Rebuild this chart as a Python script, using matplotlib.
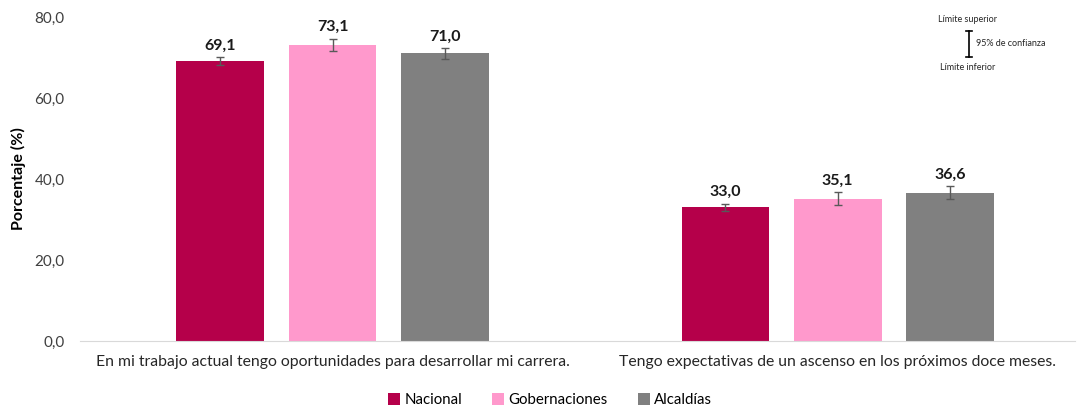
import matplotlib
matplotlib.use("Agg")
import matplotlib.pyplot as plt
import numpy as np

plt.rcParams['font.family'] = ['Lato', 'DejaVu Sans']

categories = ["En mi trabajo actual tengo oportunidades para desarrollar mi carrera.",
              "Tengo expectativas de un ascenso en los próximos doce meses."]
series = ["Nacional", "Gobernaciones", "Alcaldías"]
nacional = [69.1, 33.0]
gobernaciones = [73.1, 35.1]
alcaldias = [71.0, 36.6]
err_nacional = [0.9, 0.9]
err_gobernaciones = [1.5, 1.6]
err_alcaldias = [1.3, 1.6]
yticks = [0, 20, 40, 60, 80]
colors = ["#B5004A", "#FF99CC", "#808080"]

fig = plt.figure(figsize=(10.78, 4.11), dpi=100)
ax = fig.add_axes([80/1078, 1 - 341/411, (1075-80)/1078, (341-17)/411])

x = np.arange(len(categories))
w = 0.174
off = 0.222
vals = [nacional, gobernaciones, alcaldias]
errs = [err_nacional, err_gobernaciones, err_alcaldias]
for i, (v, e, c, name) in enumerate(zip(vals, errs, colors, series)):
    pos = x + (i - 1) * off
    ax.bar(pos, v, width=w, color=c, label=name, zorder=2)
    ax.errorbar(pos, v, yerr=e, fmt='none', ecolor='#595959', elinewidth=1,
                capsize=3, capthick=1, zorder=3)
    for p, val, er in zip(pos, v, e):
        ax.text(p, val + er + 1.2, f"{val:.1f}".replace('.', ','), ha='center', va='bottom',
                fontsize=11.5, fontweight='bold', color='#1a1a1a')

ax.set_xlim(-0.5, 1.47)
ax.set_ylim(0, 80)
ax.set_yticks(yticks)
ax.set_yticklabels([f"{t:.1f}".replace('.', ',') for t in yticks], fontsize=11, color='#404040')
ax.set_xticks(x)
ax.set_xticklabels(categories, fontsize=11.3, color='#262626')
ax.tick_params(axis='x', length=0, pad=10)
ax.tick_params(axis='y', length=0, pad=11)
for s in ['top', 'right', 'left']:
    ax.spines[s].set_visible(False)
ax.spines['bottom'].set_color('#d9d9d9')
ax.set_ylabel("Porcentaje (%)", fontsize=11.5, fontweight='bold', labelpad=6)

leg = fig.legend(loc='center', bbox_to_anchor=(550/1078, 1 - 400/411), ncol=3, frameon=False,
                 fontsize=10.8, handlelength=0.8, handleheight=0.8, columnspacing=2.0, handletextpad=0.3)

# confidence interval key
fig.text(968/1078, 1 - 20/411, "Límite superior", ha='center', va='center', fontsize=6.5, color='#262626')
fig.text(968/1078, 1 - 67/411, "Límite inferior", ha='center', va='center', fontsize=6.5, color='#262626')
fig.text(976/1078, 1 - 44/411, "95% de confianza", ha='left', va='center', fontsize=6.5, color='#262626')
xk = 969/1078
y1, y2 = 1 - 31/411, 1 - 57/411
fig.add_artist(plt.Line2D([xk, xk], [y1, y2], color='black', lw=1.2))
for yy in (y1, y2):
    fig.add_artist(plt.Line2D([xk - 3/1078, xk + 3/1078], [yy, yy], color='black', lw=1.2))

fig.savefig("out.png", dpi=100)
